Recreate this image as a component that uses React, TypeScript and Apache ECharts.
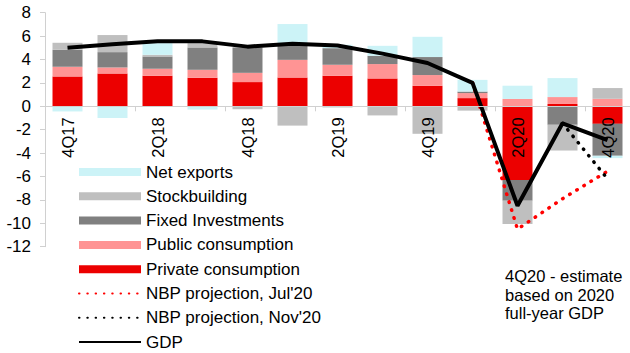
import React, { useEffect, useRef } from "react";
import * as echarts from "echarts";

const categories = ["4Q17", "1Q18", "2Q18", "3Q18", "4Q18", "1Q19", "2Q19", "3Q19", "4Q19", "1Q20", "2Q20", "3Q20", "4Q20"];
const privateConsumption = [2.55, 2.8, 2.61, 2.44, 2.07, 2.46, 2.61, 2.38, 1.75, 0.7, -6.3, 0.2, -1.5];
const publicConsumption = [0.83, 0.52, 0.6, 0.68, 0.79, 1.51, 0.94, 1.23, 0.92, 0.43, 0.63, 0.59, 0.64];
const fixedInvestments = [1.45, 1.31, 1.05, 1.91, 2.17, 1.43, 1.42, 0.71, 1.54, 0.13, -1.77, -1.58, -2.73];
const stockbuilding = [0.6, 1.46, 0.14, 0.37, -0.25, -1.65, -0.1, -0.78, -2.35, -0.37, -1.99, -2.2, 0.92];
const netExports = [-0.44, -1.0, 1.0, -0.28, 0, 1.63, 0.29, 0.85, 1.73, 1.0, 1.13, 1.62, -0.2];
const gdp = [5.0, 5.3, 5.55, 5.55, 5.1, 5.35, 5.2, 4.5, 3.7, 2.0, -8.5, -1.45, -2.9];
const nbpJul = [null, null, null, null, null, null, null, null, null, 2.0, -10.5, -7.9, -5.55];
const nbpNov = [null, null, null, null, null, null, null, null, null, null, null, -1.45, -6.2];
const yTicks = { min: -12, max: 8, interval: 2 };
const note = "4Q20 - estimate\nbased on 2020\nfull-year GDP";

const FONT = "'Liberation Sans', Arial, sans-serif";

const GRID_TOP = 12.7;
const GRID_BOTTOM_Y = 246.7;

export default function App() {
  const ref = useRef<HTMLDivElement>(null);
  useEffect(() => {
    if (!ref.current) return;
    const chart = echarts.init(ref.current, null, { renderer: "svg" });
    const bar = (name: string, data: number[], color: string) => ({
      name,
      type: "bar",
      stack: "total",
      data,
      barWidth: 30,
      itemStyle: { color },
      z: 2,
    });
    const plotH = GRID_BOTTOM_Y - GRID_TOP;
    const zeroOffset = -(plotH * (0 - yTicks.min)) / (yTicks.max - yTicks.min);
    const hiddenSymbol = { opacity: 0 };
    chart.setOption({
      animation: false,
      textStyle: { fontFamily: FONT },
      grid: { left: 45, right: 0, top: GRID_TOP, bottom: 353 - GRID_BOTTOM_Y },
      legend: {
        orient: "vertical",
        left: 73,
        top: 158.5,
        height: 200,
        itemWidth: 62,
        itemHeight: 8,
        itemGap: 7.3,
        textStyle: { fontSize: 17, color: "#000", fontFamily: FONT },
        data: [
          { name: "Net exports", icon: "rect" },
          { name: "Stockbuilding", icon: "rect" },
          { name: "Fixed Investments", icon: "rect" },
          { name: "Public consumption", icon: "rect" },
          { name: "Private consumption", icon: "rect" },
          { name: "NBP projection, Jul'20", itemStyle: hiddenSymbol },
          { name: "NBP projection, Nov'20", itemStyle: hiddenSymbol },
          { name: "GDP", itemStyle: hiddenSymbol },
        ],
      },
      xAxis: {
        type: "category",
        data: categories,
        z: 10,
        offset: zeroOffset,
        axisLine: { onZero: false, lineStyle: { color: "#d0d0d0", width: 1 } },
        axisTick: { show: true, length: 5, lineStyle: { color: "#d0d0d0" } },
        axisLabel: {
          interval: 1,
          rotate: 90,
          margin: 11,
          fontSize: 16.5,
          color: "#000",
          fontFamily: FONT,
        },
      },
      yAxis: {
        type: "value",
        min: yTicks.min,
        max: yTicks.max,
        interval: yTicks.interval,
        splitLine: { show: false },
        axisLine: { show: true, lineStyle: { color: "#d0d0d0" } },
        axisTick: { show: true, length: 5, lineStyle: { color: "#d0d0d0" } },
        axisLabel: { fontSize: 17, color: "#000", margin: 14, fontFamily: FONT },
      },
      series: [
        bar("Private consumption", privateConsumption, "#ec0000"),
        bar("Public consumption", publicConsumption, "#ff9494"),
        bar("Fixed Investments", fixedInvestments, "#808080"),
        bar("Stockbuilding", stockbuilding, "#bfbfbf"),
        bar("Net exports", netExports, "#ccf3f7"),
        {
          name: "NBP projection, Jul'20",
          type: "line",
          data: nbpJul,
          symbol: "none",
          z: 3,
          lineStyle: { color: "#ff0000", width: 3.5, type: [0.5, 7.8], cap: "round" },
          itemStyle: { color: "#ff0000" },
        },
        {
          name: "NBP projection, Nov'20",
          type: "line",
          data: nbpNov,
          symbol: "none",
          z: 3,
          lineStyle: { color: "#000", width: 3.5, type: [0.5, 7.8], cap: "round" },
          itemStyle: { color: "#000" },
        },
        {
          name: "GDP",
          type: "line",
          data: gdp,
          symbol: "none",
          z: 4,
          lineStyle: { color: "#000", width: 4 },
          itemStyle: { color: "#000" },
        },
      ],
      graphic: [
        {
          type: "text",
          left: 505,
          top: 267,
          style: {
            text: note,
            fontSize: 16.5,
            lineHeight: 18.5,
            fill: "#000",
            fontFamily: FONT,
          },
        },
      ],
    });
    return () => chart.dispose();
  }, []);
  return (
    <div
      ref={ref}
      style={{ position: "absolute", left: 0, top: 0, width: 630, height: 353 }}
    />
  );
}
